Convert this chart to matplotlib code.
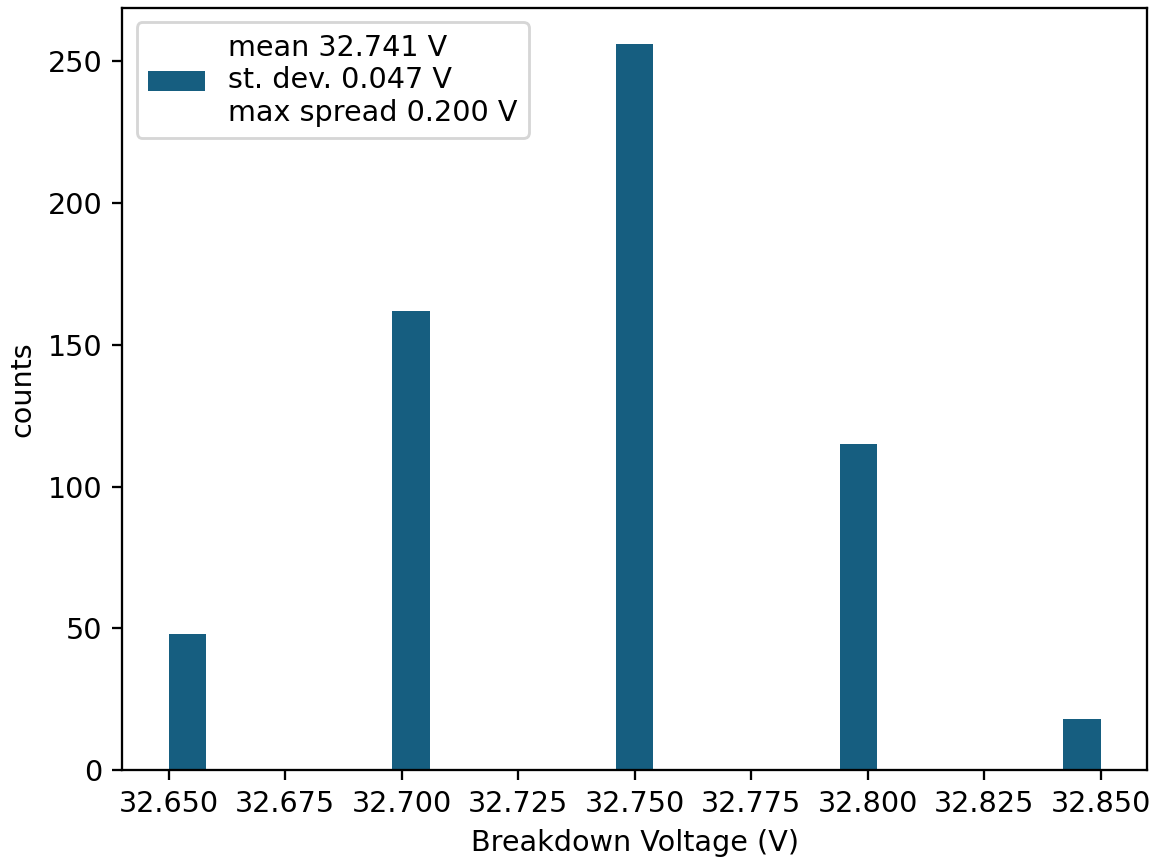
import matplotlib
matplotlib.use("Agg")
import matplotlib.pyplot as plt
import numpy as np

# Data
voltages = [32.65, 32.70, 32.75, 32.80, 32.85]
counts = [48, 162, 256, 115, 18]
n_bins = 25
legend_label = "mean 32.741 V\nst. dev. 0.047 V\nmax spread 0.200 V"
x_ticks = [32.650, 32.675, 32.700, 32.725, 32.750, 32.775, 32.800, 32.825, 32.850]
y_ticks = [0, 50, 100, 150, 200, 250]

dpi = 206
fig = plt.figure(figsize=(1153 / dpi, 859 / dpi), dpi=dpi)
ax = fig.add_axes([0.106, 0.1036, 0.889, 0.887])

ax.hist(voltages, bins=n_bins, weights=counts, range=(min(voltages), max(voltages)),
        color="#165e80", label=legend_label)
ax.set_xticks(x_ticks)
ax.set_xticklabels([f"{t:.3f}" for t in x_ticks])
ax.set_yticks(y_ticks)
ax.set_xlabel("Breakdown Voltage (V)")
ax.set_ylabel("counts")
ax.legend(loc="upper left")

fig.savefig("out.png", dpi=dpi)
